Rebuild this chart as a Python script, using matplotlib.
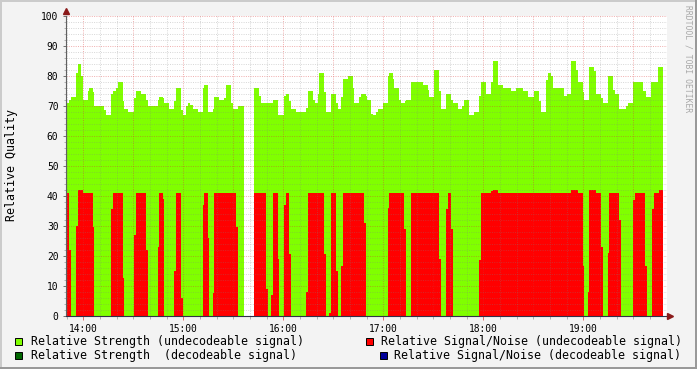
import numpy as np
import matplotlib
matplotlib.use('Agg')
import matplotlib.pyplot as plt
from matplotlib.patches import Rectangle

# step data, time in minutes after 14:00 (each value holds until the next time)
t_strength = [-10.4, -8.4, -7.2, -4.2, -3.0, -1.4, 0.0, 3.0, 3.6, 5.6, 6.6, 12.6, 13.8,
              16.8, 18.0, 19.8, 21.0, 24.0, 24.6, 27.0, 30.6, 31.8, 34.8, 37.8, 39.0,
              45.0, 45.6, 48.0, 48.6, 51.6, 54.6, 55.8, 58.8, 60.0, 61.8, 63.0, 64.2,
              66.0, 69.0, 72.0, 72.6, 75.0, 78.0, 78.6, 81.6, 84.6, 85.8, 88.8, 90.0,
              93.0, 96.6, 102.6, 105.6, 106.8, 114.0, 117.0, 120.6, 121.8, 123.6, 124.8,
              127.8, 133.8, 135.0, 138.0, 139.2, 141.0, 141.6, 144.6, 145.8, 148.8,
              151.8, 153.0, 154.8, 156.0, 159.0, 162.0, 162.6, 165.6, 166.8, 169.8,
              170.4, 172.8, 174.0, 175.8, 177.0, 180.0, 183.0, 183.6, 186.0, 186.6,
              189.6, 190.8, 193.2, 193.8, 196.8, 204.0, 207.0, 207.6, 210.6, 213.6,
              214.8, 217.8, 219.0, 220.8, 222.0, 225.0, 227.4, 228.6, 231.6, 234.6,
              237.6, 238.8, 241.8, 244.8, 246.0, 249.0, 252.0, 255.6, 256.8, 259.8,
              262.8, 264.0, 267.0, 270.6, 273.6, 274.8, 277.8, 279.0, 280.8, 282.0,
              288.6, 290.4, 292.8, 295.8, 297.0, 300.0, 300.6, 303.6, 306.6, 307.8,
              310.8, 312.0, 315.0, 318.0, 319.2, 321.6, 325.8, 327.0, 330.0, 336.0,
              337.8, 340.8, 345.0]
strength = [71, 72, 73, 81, 84, 79.7, 72, 75, 76, 74.5, 70, 68.5, 67,
            74, 75, 76, 78, 71.5, 69, 68, 72.5, 75, 74, 72, 70,
            72, 73, 72.5, 71, 69, 71.4, 76, 68.5, 67, 70, 71, 70.3,
            69, 68, 76, 77, 68, 69, 73, 72, 72.4, 77, 71, 69,
            70, np.nan, 76, 73.3, 71, 72, 67, 73.3, 74, 71.4, 69,
            68, 69.3, 75, 72, 71, 74, 81, 74.5, 68, 74,
            70.7, 69, 73, 79, 80, 76, 71, 73, 74, 73.3,
            72, 67.3, 67, 68, 69, 71, 80, 81, 79, 76,
            72, 71, 71.4, 72, 78, 77, 75.3, 73, 82, 75,
            69, 73.7, 74, 72, 71, 69, 70, 72, 67, 68,
            73.3, 78, 74, 78, 85, 77, 76, 75.7, 75, 76,
            75.7, 75, 73, 75, 71.4, 68, 78.6, 81, 80, 76,
            73.3, 74, 85, 82, 78, 74.5, 72, 83, 81.4, 74,
            72.6, 71, 80, 75.3, 74, 69, 70, 71, 78, 75,
            73, 78, 83]

t_snr = [-10.4, -8.4, -7.2, -4.2, -3.0, -1.4, 0.0, 6.0, 6.6, 16.8, 18.0, 24.0, 24.6,
         30.6, 31.8, 37.8, 39.0, 45.0, 45.6, 48.0, 48.6, 54.6, 55.8, 58.8, 60.0,
         72.0, 72.6, 75.0, 75.6, 78.0, 78.6, 91.8, 93.0, 96.6, 102.6, 109.8, 111.0,
         112.8, 114.0, 117.0, 117.6, 120.6, 121.8, 123.6, 124.8, 133.8, 135.0,
         144.6, 145.8, 147.6, 148.8, 151.8, 153.0, 154.8, 156.0, 168.6, 169.8,
         183.0, 183.6, 192.6, 193.8, 196.8, 213.6, 214.8, 217.8, 219.0, 220.8,
         222.0, 237.6, 238.8, 244.8, 246.0, 249.0, 292.8, 295.8, 297.0, 300.0,
         300.6, 303.0, 303.6, 306.6, 307.8, 310.8, 312.0, 315.0, 315.6, 321.6,
         322.8, 330.0, 331.2, 337.2, 338.4, 341.4, 342.6, 345.6]
snr = [41, 21.7, 0, 30, 42, 41.7, 41, 29.4, 0, 35.5, 41, 12.4, 0,
       26.8, 41, 21.7, 0, 23, 41, 39, 0, 15, 41, 6, 0,
       36.8, 41, 26, 0, 7.4, 41, 29.4, 0, np.nan, 41, 8.7, 0,
       6.7, 41, 19, 0, 36.8, 41, 20.4, 0, 8, 41,
       20.4, 0, 0.7, 41, 15, 0, 16.4, 41, 30.8, 0,
       36, 41, 28.8, 0, 41, 19, 0, 35.5, 41, 28.8,
       0, 18.4, 41, 41.4, 42, 41, 42, 41.7, 41, 16.4,
       0, 7.7, 42, 41.7, 41, 23, 0, 21, 41, 32,
       0, 38.5, 41, 16.4, 0, 35.5, 41, 42]
t_end = 348.0

hour_ticks = [0, 60, 120, 180, 240, 300]
hour_labels = ['14:00', '15:00', '16:00', '17:00', '18:00', '19:00']

legend_labels = ['Relative Strength (undecodeable signal)',
                 'Relative Strength  (decodeable signal)',
                 'Relative Signal/Noise (undecodeable signal)',
                 'Relative Signal/Noise (decodeable signal)']
legend_colors = ['#80FF00', '#006600', '#FF0000', '#000099']

W, H = 697, 369
plt.rcParams['font.family'] = 'DejaVu Sans Mono'


def steps(t, v, end):
    # turn step breakpoints into x/y pairs for fill_between
    edges = list(t) + [end]
    xs, ys = [], []
    for i, val in enumerate(v):
        xs += [edges[i], edges[i + 1]]
        ys += [val, val]
    return np.array(xs), np.array(ys, dtype=float)


fig = plt.figure(figsize=(W / 100, H / 100), dpi=100)
fig.patch.set_facecolor('#F3F3F3')
ax = fig.add_axes([66 / W, (H - 315.5) / H, 600.5 / W, 300 / H])
ax.set_facecolor('white')

xs, ys = steps(t_strength, strength, t_end)
ax.fill_between(xs, 0, ys, color=legend_colors[0], linewidth=0, zorder=1)
xs, ys = steps(t_snr, snr, t_end)
ax.fill_between(xs, 0, ys, color=legend_colors[2], linewidth=0, zorder=2)

ax.set_xlim(-10.5, 350)
ax.set_ylim(0, 100)

# grid on top of the areas, rrdtool style
minor_c = (0.5, 0.5, 0.5, 0.3)
major_c = (0.85, 0.2, 0.2, 0.38)
dots = (0, (1, 1.3))
for x in np.arange(-10, 350, 10):
    if x % 30 == 0:
        continue
    ax.axvline(x, color=minor_c, lw=0.72, ls=dots, zorder=3)
for x in np.arange(0, 350, 30):
    ax.axvline(x, color=major_c, lw=0.72, ls=dots, zorder=3)
for y in np.arange(2, 101, 2):
    c = major_c if y % 10 == 0 else minor_c
    ax.axhline(y, color=c, lw=0.72, ls=dots, zorder=3)

ax.set_xticks(hour_ticks)
ax.set_xticklabels(hour_labels)
ax.set_xticks(np.arange(-10, 350, 10), minor=True)
ax.set_yticks(np.arange(0, 101, 10))
ax.set_yticks(np.arange(0, 101, 2), minor=True)
ax.tick_params(axis='x', which='major', length=3, width=0.7, color='#E07070',
               labelsize=6.9, pad=3)
ax.tick_params(axis='x', which='minor', length=2, width=0.7, color='#B0B0B0')
ax.tick_params(axis='y', which='major', length=2.5, width=0.7, color='#707070',
               labelsize=6.9, pad=3)
ax.tick_params(axis='y', which='minor', length=1.5, width=0.7, color='#B0B0B0')

for s in ['top', 'right']:
    ax.spines[s].set_visible(False)
ax.spines['left'].set_color('#606060')
ax.spines['left'].set_linewidth(0.8)
ax.spines['bottom'].set_color('#30304A')
ax.spines['bottom'].set_linewidth(0.8)
ax.spines['left'].set_zorder(4)
ax.spines['bottom'].set_zorder(4)

# axis arrows
ax.plot([-10.5], [101.6], marker='^', ms=4.2, color='#8B1A1A', clip_on=False, zorder=5)
ax.plot([352.3], [0], marker='>', ms=4.2, color='#8B1A1A', clip_on=False, zorder=5)

fig.text(12 / W, 1 - 165 / H, 'Relative Quality', rotation=90, ha='center',
         va='center', fontsize=8.4)
fig.text(688 / W, 1 - 5 / H, 'RRDTOOL / TOBI OETIKER', rotation=270, ha='center',
         va='top', fontsize=5.8, color='#A8A8A8')

# legend
sq = [(15, 341.5), (15, 355), (366, 341.5), (379.5, 355)]
tx = [31, 31, 381, 394.5]
for (sx, sy), x, lab, col in zip(sq, tx, legend_labels, legend_colors):
    fig.add_artist(Rectangle((sx / W, 1 - (sy + 3.5) / H), 7 / W, 7 / H,
                             transform=fig.transFigure, facecolor=col,
                             edgecolor='black', linewidth=0.7))
    fig.text(x / W, 1 - sy / H, lab, ha='left', va='center', fontsize=8.4)

# canvas border
fig.add_artist(Rectangle((0, 1 - 2 / H), 1, 2 / H, transform=fig.transFigure,
                         facecolor='#CBCBCB', edgecolor='none'))
fig.add_artist(Rectangle((0, 0), 2 / W, 1, transform=fig.transFigure,
                         facecolor='#CBCBCB', edgecolor='none'))
fig.add_artist(Rectangle((0, 0), 1, 2.5 / H, transform=fig.transFigure,
                         facecolor='#999999', edgecolor='none'))
fig.add_artist(Rectangle((1 - 2.5 / W, 0), 2.5 / W, 1, transform=fig.transFigure,
                         facecolor='#999999', edgecolor='none'))

fig.savefig('out.png', dpi=100, facecolor=fig.get_facecolor())
